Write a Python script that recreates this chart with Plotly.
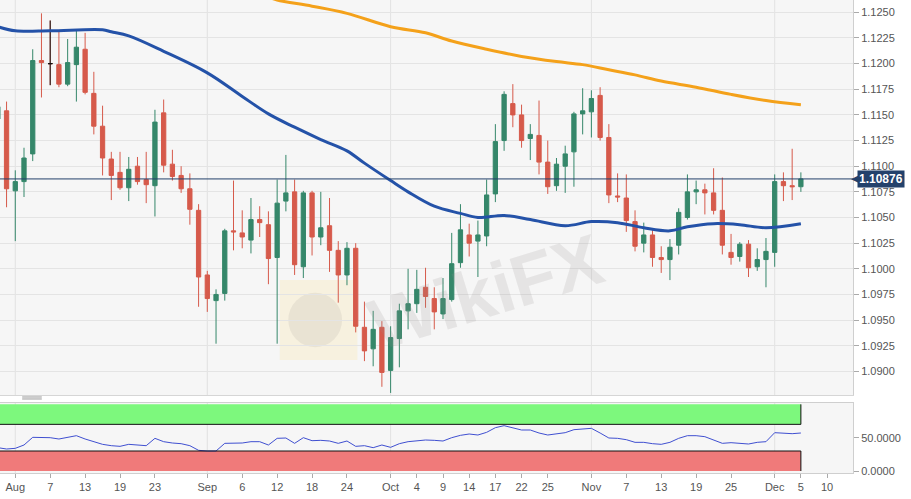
import pandas as pd
import plotly.graph_objects as go

# EUR/USD daily, 30 Jul 2019 - 5 Dec 2019 (one value per trading day)
opens = [1.1146, 1.1154, 1.1076, 1.1085, 1.1112, 1.1203, 1.1200, 1.1199, 1.1180, 1.1199,
         1.1214, 1.1171, 1.1139, 1.1107, 1.1094, 1.1079, 1.1100, 1.1087, 1.1081, 1.1152,
         1.1102, 1.1091, 1.1078, 1.1057, 1.0994, 1.0969, 1.0976, 1.1037, 1.1035, 1.1028,
         1.1048, 1.1043, 1.1011, 1.1066, 1.1075, 1.1002, 1.1074, 1.1031, 1.1042, 1.1018,
         1.0994, 1.1020, 1.0943, 1.0922, 1.0943, 1.0901, 1.0932, 1.0959, 1.0966, 1.0982,
         1.0971, 1.0956, 1.0970, 1.1006, 1.1033, 1.1027, 1.1032, 1.1073, 1.1125, 1.1161,
         1.1150, 1.1127, 1.1130, 1.1104, 1.1081, 1.1100, 1.1114, 1.1151, 1.1153, 1.1169,
         1.1128, 1.1071, 1.1069, 1.1046, 1.1025, 1.1033, 1.1011, 1.1009, 1.1023, 1.1050,
         1.1075, 1.1077, 1.1074, 1.1057, 1.1016, 1.1012, 1.1024, 1.1002, 1.1009, 1.1016,
         1.1085, 1.1081, 1.1080]
highs = [1.1165, 1.1163, 1.1096, 1.1118, 1.1214, 1.1249, 1.1242, 1.1232, 1.1224, 1.1232,
         1.1230, 1.1192, 1.1159, 1.1114, 1.1114, 1.1109, 1.1109, 1.1114, 1.1155, 1.1165,
         1.1116, 1.1100, 1.1093, 1.1063, 1.0998, 1.0980, 1.1039, 1.1086, 1.1057, 1.1069,
         1.1061, 1.1056, 1.1087, 1.1111, 1.1087, 1.1076, 1.1076, 1.1075, 1.1069, 1.1027,
         1.1026, 1.1025, 1.0968, 1.0959, 1.0949, 1.0944, 1.0966, 1.1000, 1.0999, 1.1001,
         1.0982, 1.0991, 1.1035, 1.1063, 1.1044, 1.1047, 1.1087, 1.1141, 1.1173, 1.1180,
         1.1160, 1.1141, 1.1164, 1.1125, 1.1108, 1.1120, 1.1153, 1.1176, 1.1174, 1.1177,
         1.1141, 1.1093, 1.1092, 1.1057, 1.1045, 1.1038, 1.1022, 1.1029, 1.1059, 1.1092,
         1.1086, 1.1083, 1.1098, 1.1089, 1.1034, 1.1026, 1.1028, 1.1020, 1.1030, 1.1092,
         1.1094, 1.1117, 1.1094]
lows = [1.1142, 1.1060, 1.1027, 1.1070, 1.1105, 1.1167, 1.1179, 1.1177, 1.1178, 1.1163,
        1.1170, 1.1131, 1.1091, 1.1067, 1.1077, 1.1066, 1.1082, 1.1064, 1.1051, 1.1094,
        1.1086, 1.1074, 1.1043, 1.0963, 1.0958, 1.0927, 1.0969, 1.1018, 1.1020, 1.1015,
        1.1031, 1.0985, 1.0927, 1.1056, 1.0994, 1.0991, 1.1013, 1.1023, 1.0997, 1.0967,
        1.0984, 1.0938, 1.0910, 1.0905, 1.0885, 1.0879, 1.0904, 1.0941, 1.0957, 1.0962,
        1.0941, 1.0951, 1.0968, 1.1001, 1.1012, 1.0992, 1.1022, 1.1065, 1.1115, 1.1138,
        1.1118, 1.1106, 1.1092, 1.1073, 1.1076, 1.1074, 1.1080, 1.1131, 1.1128, 1.1125,
        1.1064, 1.1065, 1.1036, 1.1017, 1.1016, 1.1002, 1.0996, 1.0989, 1.1014, 1.1048,
        1.1063, 1.1053, 1.1053, 1.1014, 1.1004, 1.1007, 1.0992, 1.0998, 1.0982, 1.1002,
        1.1066, 1.1067, 1.1075]
closes = [1.1158, 1.1078, 1.1085, 1.1108, 1.1203, 1.1201, 1.1200, 1.1180, 1.1201, 1.1216,
          1.1172, 1.1139, 1.1108, 1.1091, 1.1079, 1.1097, 1.1085, 1.1082, 1.1143, 1.1101,
          1.1090, 1.1078, 1.1058, 1.0992, 1.0971, 1.0975, 1.1037, 1.1036, 1.1031, 1.1048,
          1.1045, 1.1010, 1.1064, 1.1074, 1.1004, 1.1074, 1.1031, 1.1040, 1.1018, 1.0994,
          1.1020, 1.0944, 1.0920, 1.0941, 1.0899, 1.0933, 1.0959, 1.0966, 1.0980, 1.0973,
          1.0958, 1.0971, 1.1005, 1.1038, 1.1025, 1.1033, 1.1072, 1.1124, 1.1170, 1.1150,
          1.1125, 1.1131, 1.1104, 1.1080, 1.1102, 1.1112, 1.1151, 1.1154, 1.1166, 1.1128,
          1.1072, 1.1070, 1.1047, 1.1022, 1.1033, 1.1011, 1.1009, 1.1021, 1.1055, 1.1075,
          1.1077, 1.1074, 1.1057, 1.1023, 1.1011, 1.1024, 1.1001, 1.1009, 1.1017, 1.1085,
          1.1081, 1.1080, 1.10876]

# day with open == close, drawn in black
flat_day = "2019-08-07"

rsi = [35, 33, 34, 39, 50.5, 50.5, 50, 48, 50, 53,
       48, 44, 40, 38, 37, 40, 38.5, 38, 49, 44,
       42, 41, 38, 31, 30, 30, 41.5, 41.5, 42, 44,
       44, 39, 49, 49.5, 41.5, 50, 45.5, 46, 45, 41.5,
       45, 37, 38, 35, 39, 35.5, 41, 44, 45.5, 46.5,
       46, 45, 50, 53.5, 55.5, 54, 58, 65, 68, 65,
       61.5, 61.5, 57, 54, 56, 57.5, 62, 63, 64, 57,
       49.5, 49, 47, 43, 43, 41, 40, 43, 49, 53,
       53, 51.5, 46, 41.5, 42.5, 41, 40.5, 43, 44, 57.5,
       56.5, 56, 57]
rsi_high = 70
rsi_low = 30

ma100_dates = ["2019-07-30", "2019-08-01", "2019-08-07", "2019-08-15", "2019-08-16",
               "2019-08-20", "2019-08-26", "2019-09-02", "2019-09-06", "2019-09-11",
               "2019-09-16", "2019-09-19", "2019-09-24", "2019-09-26", "2019-10-01",
               "2019-10-03", "2019-10-08", "2019-10-11", "2019-10-15", "2019-10-18",
               "2019-10-23", "2019-10-29", "2019-11-01", "2019-11-06", "2019-11-11",
               "2019-11-14", "2019-11-18", "2019-11-21", "2019-11-26", "2019-11-29",
               "2019-12-05"]
ma100 = [1.1236, 1.1232, 1.1232, 1.1233, 1.1231,
         1.1227, 1.1212, 1.1191, 1.1168, 1.1151,
         1.1138, 1.1126, 1.1115, 1.1103, 1.1086,
         1.1075, 1.1061, 1.1054, 1.1050, 1.1052,
         1.1048, 1.1042, 1.1046, 1.1045, 1.1040,
         1.1037, 1.1041, 1.1044, 1.1043, 1.1040,
         1.1044]

ma200_dates = ["2019-09-11", "2019-09-12", "2019-09-18", "2019-09-24", "2019-10-01",
               "2019-10-07", "2019-10-10", "2019-10-16", "2019-10-22", "2019-10-28",
               "2019-10-31", "2019-11-05", "2019-11-08", "2019-11-13", "2019-11-19",
               "2019-11-25", "2019-11-29", "2019-12-05"]
ma200 = [1.1265, 1.1262, 1.1256, 1.1249, 1.1236,
         1.1230, 1.1222, 1.1214, 1.1207, 1.1202,
         1.1199, 1.1194, 1.1189, 1.1183, 1.1177,
         1.1170, 1.1164, 1.1160]

tick_dates = ["2019-08-01", "2019-08-07", "2019-08-13", "2019-08-19", "2019-08-23",
              "2019-09-02", "2019-09-06", "2019-09-12", "2019-09-18", "2019-09-24",
              "2019-10-01", "2019-10-04", "2019-10-09", "2019-10-14", "2019-10-17",
              "2019-10-22", "2019-10-25", "2019-11-01", "2019-11-07", "2019-11-13",
              "2019-11-19", "2019-11-25", "2019-12-02", "2019-12-05", "2019-12-10"]
tick_labels = ["Aug", "7", "13", "19", "23", "Sep", "6", "12", "18", "24",
               "Oct", "4", "9", "14", "17", "22", "25", "Nov", "7", "13",
               "19", "25", "Dec", "5", "10"]
month_starts = ["2019-08-01", "2019-09-02", "2019-10-01", "2019-11-01", "2019-12-02"]

# trading day -> position on the x axis (weekends skipped)
days = pd.bdate_range("2019-07-30", "2019-12-31")
pos = {d.strftime("%Y-%m-%d"): i for i, d in enumerate(days)}
dates = list(pos)[:len(closes)]
xs = [pos[d] for d in dates]

GREEN = "#35876A"
RED = "#D65A4B"
NAVY = "#23416B"
FONT = "Liberation Sans, Arial, sans-serif"
TXT = "#555555"

fig = go.Figure()

# watermark behind everything
fig.add_shape(type="rect", xref="paper", yref="paper", x0=0.328, x1=0.419, y0=0.239, y1=0.408,
              fillcolor="rgba(250,230,170,0.30)", line=dict(width=0), layer="below")
fig.add_shape(type="circle", xref="paper", yref="paper", x0=0.338, x1=0.401, y0=0.266, y1=0.381,
              fillcolor="rgba(160,155,150,0.16)", line=dict(width=0), layer="below")

fig.add_trace(go.Candlestick(
    x=xs, open=opens, high=highs, low=lows, close=closes,
    increasing=dict(line=dict(color=GREEN, width=1), fillcolor=GREEN),
    decreasing=dict(line=dict(color=RED, width=1), fillcolor=RED),
    xaxis="x", yaxis="y", showlegend=False))

k = dates.index(flat_day)
fig.add_trace(go.Candlestick(
    x=[xs[k]], open=[opens[k]], high=[highs[k]], low=[lows[k]], close=[closes[k]],
    increasing=dict(line=dict(color="#111111", width=1), fillcolor="#111111"),
    decreasing=dict(line=dict(color="#111111", width=1), fillcolor="#111111"),
    xaxis="x", yaxis="y", showlegend=False))

fig.add_trace(go.Scatter(
    x=[pos[d] for d in ma200_dates], y=ma200, mode="lines",
    line=dict(color="#F4A11A", width=3, shape="spline"),
    xaxis="x", yaxis="y", showlegend=False))
fig.add_trace(go.Scatter(
    x=[pos[d] for d in ma100_dates], y=ma100, mode="lines",
    line=dict(color="#2452A8", width=3, shape="spline"),
    xaxis="x", yaxis="y", showlegend=False))

fig.add_trace(go.Scatter(
    x=xs, y=rsi, mode="lines", line=dict(color="#3F4FD0", width=1),
    xaxis="x2", yaxis="y2", showlegend=False))

# RSI zones
x0, x1 = xs[0], xs[-1]
fig.add_shape(type="rect", xref="x2", yref="y2", x0=x0, x1=x1, y0=rsi_high, y1=100,
              fillcolor="#7DF87D", line=dict(width=0), layer="below")
fig.add_shape(type="rect", xref="x2", yref="y2", x0=x0, x1=x1, y0=0, y1=rsi_low,
              fillcolor="#F07A7A", line=dict(width=0), layer="below")
fig.add_shape(type="path", xref="x2", yref="y2",
              path=f"M {x0},{rsi_high} L {x1},{rsi_high} L {x1},100",
              line=dict(color="#111111", width=1))
fig.add_shape(type="path", xref="x2", yref="y2",
              path=f"M {x0},{rsi_low} L {x1},{rsi_low} L {x1},0",
              line=dict(color="#111111", width=1))

# month grid lines in both panels
for d in month_starts:
    for xr, yr in (("x", "y domain"), ("x2", "y2 domain")):
        fig.add_shape(type="line", xref=xr, yref=yr, x0=pos[d], x1=pos[d], y0=0, y1=1,
                      line=dict(color="#E2E2E2", width=1), layer="below")

# last price line and tag
last = closes[-1]
fig.add_shape(type="line", xref="paper", yref="y", x0=0, x1=1, y0=last, y1=last,
              line=dict(color=NAVY, width=1))
fig.add_annotation(xref="paper", yref="y", x=1, y=last, xanchor="left", xshift=4,
                   text=f"<b>{last:.5f}</b>", showarrow=False,
                   font=dict(family=FONT, size=12, color="white"),
                   bgcolor=NAVY, borderpad=1)
fig.add_annotation(xref="paper", yref="y", x=1, y=last, xanchor="left", xshift=-4,
                   text="◀", showarrow=False,
                   font=dict(family="DejaVu Sans", size=11, color=NAVY))

# panel handle
for yy in (0.1607, 0.1565):
    fig.add_shape(type="line", xref="paper", yref="paper", x0=0.026, x1=0.049,
                  y0=yy, y1=yy, line=dict(color="#999999", width=1))

fig.add_annotation(xref="paper", yref="paper", x=0.569, y=0.383, text="<b>WikiFX</b>",
                   showarrow=False, textangle=-17,
                   font=dict(family=FONT, size=72, color="rgba(150,140,140,0.17)"))

xrange = [0.25, 97.97]
fig.update_layout(
    width=911, height=499,
    margin=dict(l=0, r=58, t=0, b=26),
    paper_bgcolor="white", plot_bgcolor="#F6F6F6",
    font=dict(family=FONT, size=11, color=TXT),
    showlegend=False,
    xaxis=dict(domain=[0, 1], anchor="y", range=xrange, showgrid=False, zeroline=False,
               showticklabels=False, showline=True, linecolor="#D6D6D6",
               rangeslider=dict(visible=False)),
    xaxis2=dict(domain=[0, 1], anchor="y2", range=xrange, showgrid=False, zeroline=False,
                tickvals=[pos[d] for d in tick_dates], ticktext=tick_labels,
                ticks="outside", ticklen=4, tickcolor="#AAAAAA",
                showline=True, mirror=True, linecolor="#CFCFCF",
                tickfont=dict(size=11, color=TXT), rangeslider=dict(visible=False)),
    yaxis=dict(domain=[0.1649, 1], anchor="x", side="right", range=[1.0877, 1.1262],
               tick0=1.09, dtick=0.0025, tickformat=".4f", gridcolor="#E4E4E4",
               zeroline=False, ticks="outside", ticklen=5, tickcolor="#AAAAAA",
               showline=True, linecolor="#CFCFCF", tickfont=dict(size=11, color=TXT)),
    yaxis2=dict(domain=[0, 0.149], anchor="x2", side="right", range=[-3, 102.75],
                tickvals=[0, 50], tickformat=".4f", showgrid=False, zeroline=False,
                ticks="outside", ticklen=5, tickcolor="#AAAAAA",
                showline=True, linecolor="#CFCFCF", tickfont=dict(size=11, color=TXT)),
)

# page has no body margin so the chart sits in the window corner
fig.write_html("out.html", config={"displayModeBar": False},
               post_script="document.body.style.margin='0';")
